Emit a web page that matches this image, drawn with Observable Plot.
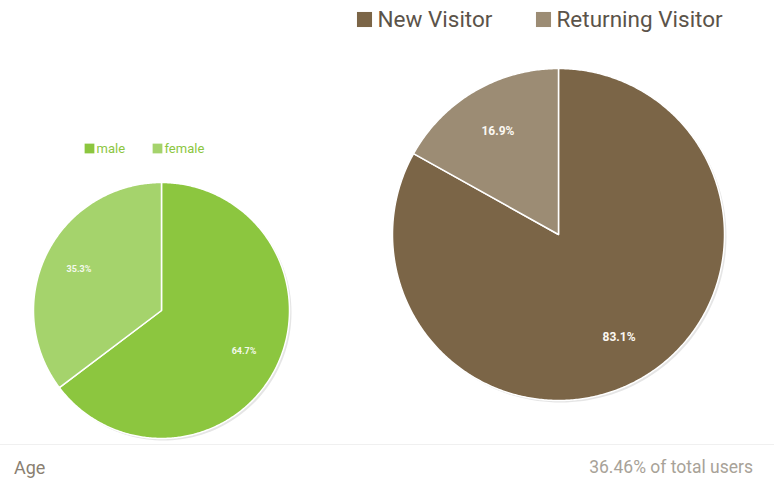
<!DOCTYPE html>
<html>
<head>
<meta charset="utf-8">
<script src="https://cdn.jsdelivr.net/npm/d3@7"></script>
<script src="https://cdn.jsdelivr.net/npm/@observablehq/plot@0.6"></script>
<style>
  html, body { margin: 0; padding: 0; background: #fff; }
  body { width: 774px; height: 491px; overflow: hidden; font-family: Roboto, "Noto Sans", sans-serif; }
  #chart svg { display: block; }
  #footer { position: relative; width: 774px; height: 46px; border-top: 1px solid #f0f0f0; margin-top: 2px; }
  #footer .l { position: absolute; left: 14px; top: 12px; font-size: 18px; color: #8a7f72; }
  #footer .r { position: absolute; right: 21px; top: 12px; font-size: 17.5px; color: #a8a298; }
</style>
</head>
<body>
<div id="chart"></div>
<div id="footer"><span class="l" id="fl"></span><span class="r" id="fr"></span></div>
<script>
const genderLabels = ["male", "female"];
const genderValues = [64.7, 35.3];
const visitorLabels = ["New Visitor", "Returning Visitor"];
const visitorValues = [83.1, 16.9];
const footerLeft = "Age";
const footerRight = "36.46% of total users";

const genderColors = ["#8cc63f", "#a5d36c"];
const visitorColors = ["#7b6547", "#9c8c74"];

const W = 774, H = 442;

function slices(values, labels, colors, cx, cy, r, pieId) {
  const total = d3.sum(values);
  let acc = 0;
  return values.map((v, i) => {
    const a0 = acc / total * 2 * Math.PI;
    acc += v;
    const a1 = acc / total * 2 * Math.PI;
    const n = Math.max(4, Math.ceil((a1 - a0) / 0.01));
    const pts = [{x: cx, y: cy}];
    for (let k = 0; k <= n; k++) {
      const a = a0 + (a1 - a0) * k / n;
      pts.push({x: cx + r * Math.sin(a), y: cy - r * Math.cos(a)});
    }
    const am = (a0 + a1) / 2;
    return {pts, color: colors[i], label: v.toFixed(1) + "%", name: labels[i],
      lx: cx + 0.72 * r * Math.sin(am), ly: cy - 0.72 * r * Math.cos(am), pieId};
  });
}
function circlePts(cx, cy, r) {
  return d3.range(0, 361, 2).map(d => ({x: cx + r * Math.sin(d * Math.PI / 180), y: cy - r * Math.cos(d * Math.PI / 180)}));
}

const left = slices(genderValues, genderLabels, genderColors, 161, 310, 128, "g");
const right = slices(visitorValues, visitorLabels, visitorColors, 558, 234, 166, "v");

const marks = [];
marks.push(Plot.line(circlePts(161, 310, 128), {x: "x", y: "y", fill: "#000", fillOpacity: 0.10, stroke: "none", dx: 2, dy: 2, curve: "linear-closed"}));
marks.push(Plot.line(circlePts(558, 234, 166), {x: "x", y: "y", fill: "#000", fillOpacity: 0.10, stroke: "none", dx: 2, dy: 2, curve: "linear-closed"}));
for (const s of [...left, ...right]) {
  marks.push(Plot.line(s.pts, {x: "x", y: "y", fill: s.color, stroke: "#fff", strokeWidth: 1.5, strokeLinejoin: "round", curve: "linear-closed"}));
}
marks.push(Plot.text(left, {x: "lx", y: "ly", text: "label", fill: "#f4f9ec", fontSize: 9, fontWeight: "bold"}));
marks.push(Plot.text(right, {x: "lx", y: "ly", text: "label", fill: "#fbf8f2", fontSize: 12, fontWeight: "bold"}));

// legends
const legG = genderLabels.map((d, i) => ({name: d, color: genderColors[i], x: [89, 157][i], y: 148}));
const legV = visitorLabels.map((d, i) => ({name: d, color: visitorColors[i], x: [364, 543][i], y: 19}));
marks.push(Plot.dot(legG, {x: "x", y: "y", fill: "color", symbol: "square", r: 5.5}));
marks.push(Plot.text(legG, {x: "x", y: "y", dx: 7, text: "name", textAnchor: "start", fill: "#8cc63f", fontSize: 13}));
marks.push(Plot.dot(legV, {x: "x", y: "y", fill: "color", symbol: "square", r: 8.5}));
marks.push(Plot.text(legV, {x: "x", y: "y", dx: 13, text: "name", textAnchor: "start", fill: "#5b5349", fontSize: 22.5}));

const chart = Plot.plot({
  width: W, height: H,
  margin: 0,
  x: {domain: [0, W], range: [0, W], axis: null},
  y: {domain: [0, H], range: [0, H], axis: null},
  style: {fontFamily: "Roboto, 'Noto Sans', sans-serif", background: "#fff"},
  marks
});
document.getElementById("chart").appendChild(chart);
document.getElementById("fl").textContent = footerLeft;
document.getElementById("fr").textContent = footerRight;
</script>
</body>
</html>
